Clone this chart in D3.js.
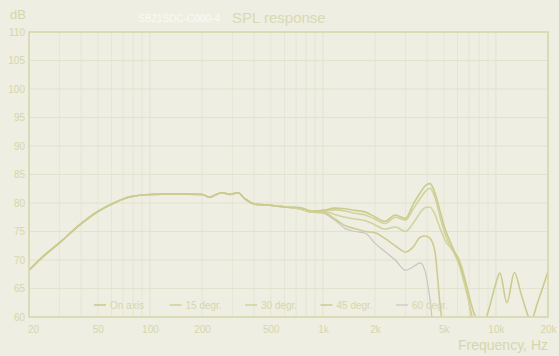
<!DOCTYPE html>
<html><head><meta charset="utf-8">
<script src="https://cdn.jsdelivr.net/npm/d3@7"></script>
<style>
html,body{margin:0;padding:0;background:#eeeee2;}
svg{display:block;font-family:"Liberation Sans",Arial,sans-serif;}
</style></head>
<body><svg id="c" width="559" height="356"></svg>
<script>
const freqs = [20,24.7,30.2,39.4,50,62.8,77,101,139,200,222,238,260,291,323,355,406,496,603,736,862,1000,1170,1346,1533,1760,1990,2280,2620,3000,3330,3650,3900,4160,4440,4760,5080,5570,6150,6750,7500,8330,9130,9900,10550,11570,12800,14000,16000,17400,20000];
const onAxis = [68.2,70.9,73.1,76.2,78.5,80.1,81.1,81.5,81.6,81.5,81.0,81.4,81.8,81.5,81.8,80.7,79.8,79.6,79.3,79.2,78.6,78.7,79.1,79.0,78.7,78.4,77.6,76.8,77.9,77.3,79.8,81.8,83.0,83.4,81.8,78.5,75.5,72.5,69.5,65.5,60.5,58.5,61.5,65.5,67.7,62.5,67.8,64.0,59.5,62.5,68.0];
const deg15 = [68.2,70.9,73.1,76.2,78.5,80.1,81.1,81.5,81.6,81.5,81.0,81.4,81.8,81.5,81.8,80.7,79.8,79.6,79.3,79.1,78.5,78.7,78.8,78.6,78.2,77.9,77.2,76.4,77.5,77.0,79.0,80.8,82.0,82.6,81.0,77.5,74.5,72.0,69.0,64.5,58.5,55,55,55,55,55,55,55,55,55,55];
const deg30 = [68.2,70.9,73.1,76.2,78.5,80.1,81.1,81.5,81.6,81.5,81.0,81.4,81.8,81.5,81.8,80.7,79.8,79.6,79.3,79.0,78.4,78.6,78.0,77.5,77.2,76.9,76.2,75.4,75.8,75.0,76.5,78.3,79.2,79.3,78.0,75.5,73.5,71.8,70.0,65.5,57,55,55,55,55,55,55,55,55,55,55];
const deg45 = [68.2,70.9,73.1,76.2,78.5,80.1,81.1,81.5,81.6,81.5,81.0,81.4,81.8,81.5,81.8,80.7,79.8,79.6,79.3,79.0,78.4,78.4,77.2,76.0,75.5,75.0,74.8,73.8,72.5,71.4,72.3,74.0,74.2,73.8,71.5,62,56,55,55,55,55,55,55,55,55,55,55,55,55,55,55];
const deg60 = [68.2,70.9,73.1,76.2,78.5,80.1,81.1,81.5,81.6,81.5,81.0,81.4,81.8,81.5,81.8,80.7,79.8,79.6,79.3,78.9,78.4,78.2,77.0,75.5,75.0,74.7,73.0,71.5,70.0,68.2,68.8,69.5,68.0,63.0,56,55,55,55,55,55,55,55,55,55,55,55,55,55,55,55,55];
const seriesNames = ["On axis","15 degr.","30 degr.","45 degr.","60 degr."];
const seriesData = [onAxis,deg15,deg30,deg45,deg60];
const seriesColors = ["#cbcb8f","#d2d29c","#d3d39d","#cfcb93","#c9c4c6"];
const xTicks = [20,50,100,200,500,1000,2000,5000,10000,20000];
const xTickLabels = ["20","50","100","200","500","1k","2k","5k","10k","20k"];
const yTicks = [60,65,70,75,80,85,90,95,100,105,110];

const svg = d3.select("#c");
const L=29,R=548,T=32,B=317;
const x = d3.scaleLog().domain([20,20000]).range([L,R]);
const y = d3.scaleLinear().domain([60,110]).range([B,T]);
const txt="#d6d6ac";

svg.append("rect").attr("width",559).attr("height",356).attr("fill","#eeeee2");

// grid
const minor=[];
[10,100,1000,10000].forEach(d=>{for(let k=1;k<10;k++){const v=d*k; if(v>=20&&v<=20000) minor.push(v);}});
minor.push(20000);
svg.append("g").selectAll("line").data(minor).join("line")
  .attr("x1",d=>x(d)).attr("x2",d=>x(d)).attr("y1",T).attr("y2",B)
  .attr("stroke",d=>[100,1000,10000].includes(d)?"#e2e2cf":"#e6e6d6").attr("stroke-width",1);
svg.append("g").selectAll("line").data(yTicks).join("line")
  .attr("x1",L).attr("x2",R).attr("y1",d=>y(d)).attr("y2",d=>y(d))
  .attr("stroke","#e2e2cf").attr("stroke-width",1);

// axes labels via d3 axes
const ya = svg.append("g").attr("transform",`translate(${L},0)`)
  .call(d3.axisLeft(y).tickValues(yTicks).tickSize(0).tickPadding(4));
ya.select(".domain").remove();
ya.selectAll("text").attr("fill",txt).attr("font-size",10).attr("font-family","Liberation Sans, Arial, sans-serif");

const xa = svg.append("g").attr("transform",`translate(0,${B})`)
  .call(d3.axisBottom(x).tickValues(xTicks).tickFormat((d,i)=>xTickLabels[i]).tickSize(0).tickPadding(9));
xa.select(".domain").remove();
xa.selectAll("text").attr("fill",txt).attr("font-size",10).attr("font-family","Liberation Sans, Arial, sans-serif")
  .attr("dx",(d,i)=> i===0?4:0);

// clip
svg.append("clipPath").attr("id","pc").append("rect").attr("x",L).attr("y",T).attr("width",R-L).attr("height",B-T);

const line = d3.line().x((d,i)=>x(freqs[i])).y(d=>y(d)).curve(d3.curveMonotoneX);
const g = svg.append("g").attr("clip-path","url(#pc)");
[4,3,2,1,0].forEach(s=>{
  g.append("path").datum(seriesData[s]).attr("d",line).attr("fill","none")
   .attr("stroke",seriesColors[s]).attr("stroke-width",s===4?1.2:1.6);
});

// border
svg.append("rect").attr("x",L).attr("y",T).attr("width",R-L).attr("height",B-T)
  .attr("fill","none").attr("stroke","#d6d6aa").attr("stroke-width",1.5);

// legend
const lg = svg.append("g").selectAll("g").data(seriesNames).join("g")
  .attr("transform",(d,i)=>`translate(${94+i*75.5},305)`);
lg.append("line").attr("x1",0).attr("x2",12).attr("y1",0).attr("y2",0)
  .attr("stroke",(d,i)=>seriesColors[i]).attr("stroke-width",(d,i)=>i===4?1.2:1.6);
lg.append("text").attr("x",16).attr("y",3.5).text(d=>d).attr("fill",txt).attr("font-size",10);

// titles
svg.append("text").attr("x",10).attr("y",19).text("dB").attr("fill",txt).attr("font-size",13);
svg.append("text").attr("x",138).attr("y",22).text("SB21SDC-C000-4").attr("fill","#fbfbf6").attr("font-size",11)
  .attr("textLength",82).attr("lengthAdjust","spacingAndGlyphs");
svg.append("text").attr("x",232).attr("y",23).text("SPL response").attr("fill","#d9d9b2").attr("font-size",15);
svg.append("text").attr("x",548).attr("y",350).attr("text-anchor","end").text("Frequency, Hz").attr("fill",txt).attr("font-size",14);
</script></body></html>
